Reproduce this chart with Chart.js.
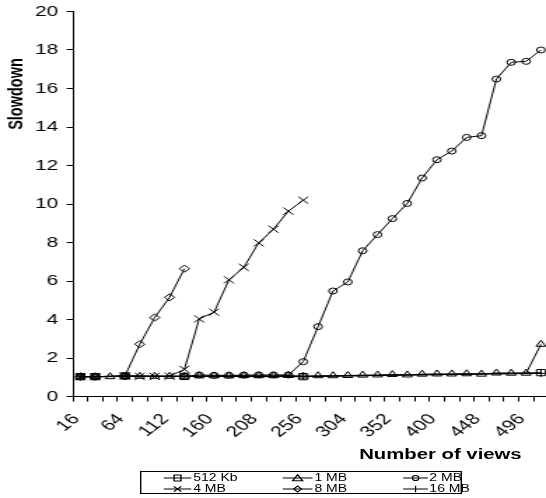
<!DOCTYPE html>
<html>
<head>
<meta charset="utf-8">
<script src="https://cdn.jsdelivr.net/npm/chart.js@4.4.0/dist/chart.umd.min.js"></script>
<style>
  html, body { margin: 0; padding: 0; background: #fff; }
  #frame { position: relative; width: 546px; height: 498px; overflow: hidden; background: #fff; }
  /* The drawing is laid out on a narrow stage and widened horizontally */
  #stage { position: absolute; left: 0; top: 0; width: 400px; height: 498px;
           transform: scaleX(1.4); transform-origin: 0 0; }
  #chart { position: absolute; left: 0; top: 0; }
  .axis-title { position: absolute; font: bold 14.5px "Liberation Sans", Arial, sans-serif;
                color: #000; white-space: nowrap; text-align: center; line-height: 16px; height: 16px; }
  #xtitle { left: 214.6px; top: 446px; width: 200px; }
  #legend { position: absolute; left: 100px; top: 471px; width: 230px; height: 23px;
            border: 1px solid #000; box-sizing: border-box;
            font: 10px "Liberation Sans", Arial, sans-serif; color: #000; }
  .item { position: absolute; height: 10px; line-height: 10px; white-space: nowrap; }
  .item svg { position: absolute; left: 0; top: 1px; overflow: visible; }
  .item span { position: absolute; top: 0; }
</style>
</head>
<body>
<div id="frame">
  <div id="stage">
    <canvas id="chart" width="400" height="498"></canvas>
    <div id="xtitle" class="axis-title">Number of views</div>
    <div id="legend"></div>
  </div>
</div>
<script>
// Number of views (x categories)
const views = [16, 32, 48, 64, 80, 96, 112, 128, 144, 160, 176, 192, 208, 224, 240, 256,
               272, 288, 304, 320, 336, 352, 368, 384, 400, 416, 432, 448, 464, 480, 496, 512];

// Slowdown per cache size (null = not measured)
const kb512 = [1.03, 1.03, null, 1.07, null, null, null, 1.04, null, null, null, null, null, null, null, 1.03,
               null, null, null, null, null, null, null, null, null, null, null, null, null, null, null, 1.24];
const mb1   = [1.03, 1.03, 1.03, 1.05, 1.05, 1.05, 1.05, 1.06, 1.07, 1.07, 1.07, 1.08, 1.08, 1.08, 1.09, 1.06,
               1.08, 1.08, 1.09, 1.11, 1.12, 1.14, 1.12, 1.16, 1.17, 1.17, 1.18, 1.16, 1.22, 1.21, 1.21, 2.71];
const mb2   = [1.03, 1.03, null, 1.05, null, null, null, 1.04, 1.12, 1.10, 1.10, 1.11, 1.12, 1.12, 1.12, 1.81,
               3.63, 5.48, 5.95, 7.57, 8.41, 9.24, 10.03, 11.35, 12.30, 12.75, 13.46, 13.55, 16.49, 17.36, 17.41, 18.00];
const mb4   = [1.03, 1.03, null, 1.06, 1.04, 1.04, 1.05, 1.41, 4.03, 4.38, 6.06, 6.71, 7.98, 8.69, 9.63, 10.20,
               null, null, null, null, null, null, null, null, null, null, null, null, null, null, null, null];
const mb8   = [1.03, 1.03, null, 1.07, 2.72, 4.10, 5.15, 6.64, null, null, null, null, null, null, null, null,
               null, null, null, null, null, null, null, null, null, null, null, null, null, null, null, null];
const mb16  = [1.03, 1.03, null, 1.06, null, null, null, 1.05, null, null, null, null, null, null, null, 1.04,
               null, null, null, null, null, null, null, null, null, null, null, null, null, null, null, 1.20];

// Y axis range and step
const yMin = 0, yMax = 20, yStep = 2;
// Every third category gets a label
const labelEvery = 3;
const yTitle = 'Slowdown';

const seriesDefs = [
  { label: '512 Kb', data: kb512, style: 'rect',     radius: 4.4 },
  { label: '1 MB',   data: mb1,   style: 'triangle', radius: 4.0 },
  { label: '2 MB',   data: mb2,   style: 'circle',   radius: 3.0 },
  { label: '4 MB',   data: mb4,   style: 'crossRot', radius: 5.0 },
  { label: '8 MB',   data: mb8,   style: 'rectRot',  radius: 3.6 },
  { label: '16 MB',  data: mb16,  style: 'cross',    radius: 3.5 }
];

const tickFont = { family: '"Liberation Sans", Arial, sans-serif', size: 15 };

// Vertical axis title, drawn in the upper part of the left margin
const yTitlePlugin = {
  id: 'yTitle',
  afterDraw(chart) {
    const ctx = chart.ctx;
    ctx.save();
    ctx.translate(12.1, 94);
    ctx.rotate(-Math.PI / 2);
    ctx.font = 'bold 14.5px "Liberation Sans", Arial, sans-serif';
    ctx.fillStyle = '#000';
    ctx.textAlign = 'center';
    ctx.textBaseline = 'middle';
    ctx.fillText(yTitle, 0, 0);
    ctx.restore();
  }
};

new Chart(document.getElementById('chart').getContext('2d'), {
  type: 'line',
  data: {
    labels: views.map(String),
    datasets: seriesDefs.map(s => ({
      label: s.label,
      data: s.data,
      borderColor: '#000',
      borderWidth: 1,
      backgroundColor: 'rgba(0,0,0,0)',
      pointStyle: s.style,
      pointRadius: s.radius,
      pointBorderColor: '#000',
      pointBackgroundColor: 'rgba(0,0,0,0)',
      pointBorderWidth: 1,
      spanGaps: true,
      tension: 0,
      clip: false
    }))
  },
  plugins: [yTitlePlugin],
  options: {
    responsive: false,
    animation: false,
    devicePixelRatio: 1,
    layout: { padding: { left: 0, right: 8.3, top: 11.5, bottom: 0 } },
    plugins: { legend: { display: false }, tooltip: { enabled: false }, title: { display: false } },
    scales: {
      x: {
        type: 'category',
        offset: true,
        grid: { display: true, drawOnChartArea: false, drawTicks: true, tickLength: 5,
                offset: true, tickColor: '#000', color: '#000', tickWidth: 1 },
        border: { display: true, color: '#000', width: 1 },
        ticks: {
          autoSkip: false, minRotation: 47, maxRotation: 47, padding: 9, labelOffset: -3,
          color: '#000', font: tickFont,
          callback: (v, i) => (i % labelEvery === 0 ? String(views[i]) : '')
        },
        afterFit: s => { s.height = 101.5; s.paddingLeft = 0; s.paddingRight = 0; }
      },
      y: {
        min: yMin, max: yMax,
        grid: { display: true, drawOnChartArea: false, drawTicks: true, tickLength: 4.5,
                tickColor: '#000', color: '#000', tickWidth: 1 },
        border: { display: true, color: '#000', width: 1 },
        ticks: { stepSize: yStep, padding: 6, color: '#000', font: tickFont },
        afterFit: s => { s.width = 52.1; s.paddingTop = 0; s.paddingBottom = 0; }
      }
    }
  }
});

// Legend: three columns, two rows, each entry a short line with its marker
const legendCols = [116.4, 201.4, 287];
const legendTextDx = [20.6, 22.2, 18.7];
const legendRows = [1, 12];
const markerSvg = {
  rect:     '<rect x="7.5" y="1" width="5" height="6" fill="none" stroke="#000" stroke-width="1"/>',
  triangle: '<polygon points="10,0.8 13.4,6.8 6.6,6.8" fill="none" stroke="#000" stroke-width="1"/>',
  circle:   '<circle cx="10" cy="4" r="2.6" fill="none" stroke="#000" stroke-width="1"/>',
  crossRot: '<path d="M7.3 1.3 L12.7 6.7 M7.3 6.7 L12.7 1.3" stroke="#000" stroke-width="1"/>',
  rectRot:  '<polygon points="10,1 12.6,4 10,7 7.4,4" fill="none" stroke="#000" stroke-width="1"/>',
  cross:    '<path d="M10 0.8 L10 7.2" stroke="#000" stroke-width="1"/>'
};
const legend = document.getElementById('legend');
seriesDefs.forEach((s, k) => {
  const col = k % 3, row = Math.floor(k / 3);
  const item = document.createElement('div');
  item.className = 'item';
  item.style.left = (legendCols[col] - 100) + 'px';
  item.style.top = legendRows[row] + 'px';
  const w = legendTextDx[col] - 1;
  item.innerHTML =
    '<svg width="' + w + '" height="8" viewBox="0 0 20 8" preserveAspectRatio="none">' +
    '<line x1="0" y1="4" x2="20" y2="4" stroke="#000" stroke-width="1"/>' + markerSvg[s.style] + '</svg>' +
    '<span style="left:' + legendTextDx[col] + 'px">' + s.label + '</span>';
  legend.appendChild(item);
});
</script>
</body>
</html>
